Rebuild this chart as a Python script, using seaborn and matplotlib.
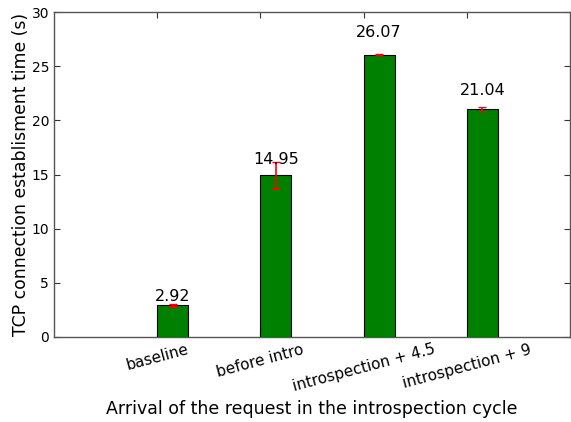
import pandas as pd
import matplotlib
matplotlib.use("Agg")
import matplotlib.pyplot as plt
import seaborn as sns

# datos
categorias = ['baseline', 'before intro', 'introspection + 4.5', 'introspection + 9']
tiempos = [2.92, 14.95, 26.07, 21.04]
errores = [0.1, 1.2, 0.05, 0.2]

df = pd.DataFrame({'caso': categorias, 'tiempo': tiempos})

sns.set_style("white")
plt.rcParams['font.family'] = ['DejaVu Sans']
plt.rcParams['text.color'] = 'black'
plt.rcParams['axes.labelcolor'] = 'black'
plt.rcParams['xtick.color'] = 'black'
plt.rcParams['ytick.color'] = 'black'
plt.rcParams['xtick.direction'] = 'in'
plt.rcParams['ytick.direction'] = 'in'
plt.rcParams['xtick.top'] = True
plt.rcParams['ytick.right'] = True
plt.rcParams['xtick.bottom'] = True
plt.rcParams['ytick.left'] = True

fig = plt.figure(figsize=(5.71, 4.22), dpi=100)
ax = fig.add_axes([54 / 571, 1 - 337 / 422, 516 / 571, 325 / 422])

ancho = 0.3
sns.barplot(data=df, x='caso', y='tiempo', color='green', saturation=1,
            width=ancho, edgecolor='black', linewidth=0.8, errorbar=None, ax=ax)
pos = range(len(categorias))
ax.errorbar(list(pos), tiempos, yerr=errores, fmt='none', ecolor='red',
            capsize=3, elinewidth=1.2, capthick=1)

for i, v in enumerate(tiempos):
    ax.text(i, 1.05 * v, '%.2f' % v, ha='center', va='bottom', fontsize=11.5)

ax.set_xlim(-1 - ancho / 2, 4 - ancho / 2)
ax.set_ylim(0, 30)
ax.set_xticks([i - ancho / 2 for i in pos])
ax.set_xticklabels(categorias, rotation=15, ha='center', fontsize=11)
ax.tick_params(axis='y', labelsize=10)
ax.tick_params(length=4, width=0.8, color='#333333')
for s in ax.spines.values():
    s.set_color('#555555')
    s.set_linewidth(1)
ax.set_xlabel('Arrival of the request in the introspection cycle', fontsize=12.5, labelpad=4)
ax.set_ylabel('TCP connection establisment time (s)', fontsize=12.4, labelpad=1)
fig.savefig('out.png', dpi=100)
